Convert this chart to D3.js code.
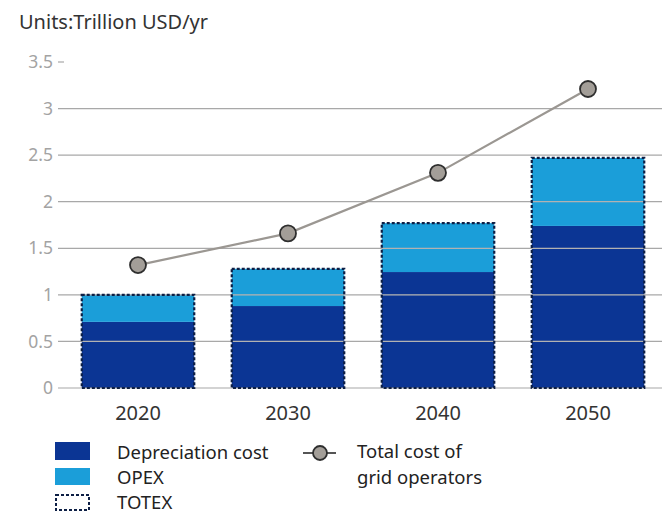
<!DOCTYPE html>
<html>
<head>
<meta charset="utf-8">
<script src="https://cdn.jsdelivr.net/npm/d3@7"></script>
<style>
  html, body { margin: 0; padding: 0; background: #fff; }
  text { font-family: "Noto Sans", "Open Sans", sans-serif; }
</style>
</head>
<body>
<div id="chart"></div>
<script>
// Valeurs
const years = ["2020", "2030", "2040", "2050"];
const depreciation = [0.71, 0.88, 1.245, 1.74];
const opex = [0.29, 0.40, 0.525, 0.73];
const totalGrid = [1.32, 1.66, 2.31, 3.21];
const yTicks = [0, 0.5, 1, 1.5, 2, 2.5, 3, 3.5];

const width = 662;
const height = 514;

const svg = d3.select("#chart")
  .append("svg")
  .attr("width", width)
  .attr("height", height);

// Echelles
const x = d3.scaleBand()
  .domain(years)
  .range([63, 663])
  .paddingInner(0.25)
  .paddingOuter(0.125);

const y = d3.scaleLinear()
  .domain([0, 3.5])
  .range([388, 62]);

const darkBlue = "#0b3594";
const lightBlue = "#1b9ed9";
const navy = "#0d1f45";

// Titre des unités
svg.append("text")
  .attr("x", 19)
  .attr("y", 29)
  .attr("fill", "#333")
  .style("font-size", "20px")
  .text("Units:Trillion USD/yr");

// Axe Y (étiquettes)
svg.append("g")
  .selectAll("text")
  .data(yTicks)
  .enter()
  .append("text")
  .attr("x", 53)
  .attr("y", (d) => y(d))
  .attr("dy", "0.35em")
  .attr("text-anchor", "end")
  .attr("fill", "#a3a3a3")
  .style("font-size", "17.5px")
  .text((d) => d);

// Barres empilées
const bars = svg.append("g");
bars.selectAll(".dep")
  .data(years)
  .enter()
  .append("rect")
  .attr("x", (d) => x(d))
  .attr("y", (d, i) => y(depreciation[i]))
  .attr("width", x.bandwidth())
  .attr("height", (d, i) => y(0) - y(depreciation[i]))
  .attr("fill", darkBlue);

bars.selectAll(".opex")
  .data(years)
  .enter()
  .append("rect")
  .attr("x", (d) => x(d))
  .attr("y", (d, i) => y(depreciation[i] + opex[i]))
  .attr("width", x.bandwidth())
  .attr("height", (d, i) => y(depreciation[i]) - y(depreciation[i] + opex[i]))
  .attr("fill", lightBlue);

// Lignes de grille
const grid = svg.append("g");
grid.selectAll("line")
  .data(yTicks)
  .enter()
  .append("line")
  .attr("x1", 58)
  .attr("x2", (d) => (d === 3.5 ? 64 : width))
  .attr("y1", (d) => y(d))
  .attr("y2", (d) => y(d))
  .attr("stroke", "#a8a8a8")
  .attr("stroke-width", 1.2);

// Reflets légers de la grille dans les barres
grid.selectAll(".inbar")
  .data(years)
  .enter()
  .append("g")
  .each(function (d, i) {
    const top = depreciation[i] + opex[i];
    d3.select(this)
      .selectAll("line")
      .data(yTicks.filter((t) => t > 0 && t < top))
      .enter()
      .append("line")
      .attr("x1", x(d))
      .attr("x2", x(d) + x.bandwidth())
      .attr("y1", (t) => y(t))
      .attr("y2", (t) => y(t))
      .attr("stroke", "#ffffff")
      .attr("stroke-opacity", 0.12)
      .attr("stroke-width", 1.2);
  });

// Contour TOTEX en pointillés
svg.append("g")
  .selectAll("rect")
  .data(years)
  .enter()
  .append("rect")
  .attr("x", (d) => x(d))
  .attr("y", (d, i) => y(depreciation[i] + opex[i]))
  .attr("width", x.bandwidth())
  .attr("height", (d, i) => y(0) - y(depreciation[i] + opex[i]))
  .attr("fill", "none")
  .attr("stroke", navy)
  .attr("stroke-width", 2.2)
  .attr("stroke-dasharray", "3,2");

// Axe X
svg.append("g")
  .attr("transform", "translate(0,413)")
  .call(d3.axisBottom(x).tickSize(0).tickPadding(0))
  .call((g) => g.select(".domain").remove())
  .selectAll("text")
  .attr("fill", "#333")
  .attr("dy", "0.35em")
  .style("font-size", "20px")
  .style("font-family", "'Noto Sans', sans-serif");

// Courbe du coût total
const line = d3.line()
  .x((d, i) => x(years[i]) + x.bandwidth() / 2)
  .y((d) => y(d));

svg.append("path")
  .datum(totalGrid)
  .attr("d", line)
  .attr("fill", "none")
  .attr("stroke", "#9b9792")
  .attr("stroke-width", 2.2);

svg.selectAll(".pt")
  .data(totalGrid)
  .enter()
  .append("circle")
  .attr("cx", (d, i) => x(years[i]) + x.bandwidth() / 2)
  .attr("cy", (d) => y(d))
  .attr("r", 8)
  .attr("fill", "#a39e98")
  .attr("stroke", "#2e2e2e")
  .attr("stroke-width", 1.8);

// Légende
const legend = svg.append("g");
legend.append("rect").attr("x", 55).attr("y", 442).attr("width", 35).attr("height", 18).attr("fill", darkBlue);
legend.append("rect").attr("x", 55).attr("y", 468).attr("width", 35).attr("height", 17).attr("fill", lightBlue);
legend.append("rect").attr("x", 56).attr("y", 495).attr("width", 33).attr("height", 15)
  .attr("fill", "none").attr("stroke", navy).attr("stroke-width", 2).attr("stroke-dasharray", "3,2");

const legendText = [
  { t: "Depreciation cost", x: 117, y: 459 },
  { t: "OPEX", x: 117, y: 484 },
  { t: "TOTEX", x: 117, y: 509 },
  { t: "Total cost of", x: 357, y: 458 },
  { t: "grid operators", x: 357, y: 484 },
];
legend.selectAll("text")
  .data(legendText)
  .enter()
  .append("text")
  .attr("x", (d) => d.x)
  .attr("y", (d) => d.y)
  .attr("fill", "#222")
  .style("font-size", "18.5px")
  .text((d) => d.t);

legend.append("line").attr("x1", 303).attr("x2", 336).attr("y1", 453).attr("y2", 453)
  .attr("stroke", "#555").attr("stroke-width", 2);
legend.append("circle").attr("cx", 320).attr("cy", 453).attr("r", 7)
  .attr("fill", "#a39e98").attr("stroke", "#2e2e2e").attr("stroke-width", 1.8);
</script>
</body>
</html>
